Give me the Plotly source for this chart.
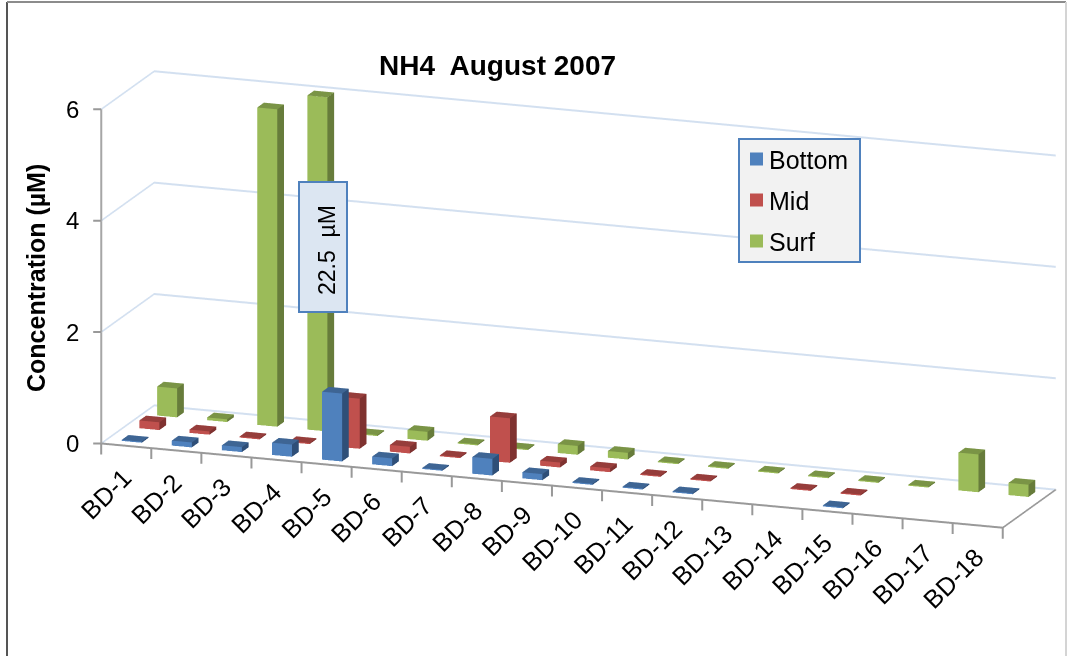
import plotly.graph_objects as go

stations = [f"BD-{i}" for i in range(1, 19)]
bottom = [0.02, 0.09, 0.09, 0.22, 1.22, 0.14, 0.02, 0.3, 0.11, 0.02, 0.02, 0.02, None, None, 0.02, None, None, None]
mid = [0.14, 0.06, 0.02, 0.02, 0.9, 0.12, 0.02, 0.8, 0.09, 0.07, 0.02, 0.02, None, 0.02, 0.02, None, None, None]
surf = [0.52, 0.05, 5.7, 22.5, 0.02, 0.16, 0.02, 0.02, 0.16, 0.12, 0.02, 0.02, 0.02, 0.02, 0.02, 0.02, 0.68, 0.22]
z_ticks = [0, 2, 4, 6]
z_max = 6

FONT = "Liberation Sans"
AXIS_GRAY = "#999999"
BAR_W = 0.4
BAR_D = 0.38
EYE = 3
ZOOM = 3.2
W, H = 1068, 656

series = [
    ("Bottom", bottom, ("#4f81bd", "#3e6594", "#2f4f78")),
    ("Mid", mid, ("#c0504d", "#963d3b", "#7f3230")),
    ("Surf", surf, ("#9bbb59", "#7a9446", "#677c3b")),
]


def box_mesh(name, values, row, colors):
    """one Mesh3d holding a box per station, clipped at the axis max"""
    front, top, side = colors
    xs, ys, zs, ii, jj, kk, fc = [], [], [], [], [], [], []
    for idx, val in enumerate(values):
        if val is None:
            continue
        h = min(val, z_max)
        x0, x1 = idx + 0.5 - BAR_W / 2, idx + 0.5 + BAR_W / 2
        y0, y1 = row + 0.5 - BAR_D / 2, row + 0.5 + BAR_D / 2
        n = len(xs)
        xs += [x0, x1, x1, x0, x0, x1, x1, x0]
        ys += [y0, y0, y1, y1, y0, y0, y1, y1]
        zs += [0, 0, 0, 0, h, h, h, h]
        quads = [
            ((0, 1, 5, 4), front),
            ((1, 2, 6, 5), side),
            ((4, 5, 6, 7), top),
        ]
        for (a, b, c, d), col in quads:
            ii += [n + a, n + a]
            jj += [n + b, n + c]
            kk += [n + c, n + d]
            fc += [col, col]
    return go.Mesh3d(
        x=xs, y=ys, z=zs, i=ii, j=jj, k=kk,
        facecolor=fc,
        flatshading=True,
        lighting=dict(ambient=1, diffuse=0, specular=0, roughness=1, fresnel=0),
        hoverinfo="skip",
        showlegend=False,
        name=name,
    )


def paper_x(px):
    return px / W


def paper_y(px):
    return 1 - px / H


def page_text(x, y, text, size, **kw):
    return dict(x=paper_x(x), y=paper_y(y), xref="paper", yref="paper", showarrow=False,
                xanchor=kw.pop("xanchor", "center"), yanchor="middle", text=text,
                font=dict(family=FONT, size=size, color="#000000"), **kw)


def page_line(x0, y0, x1, y1, color, width=2):
    return dict(type="line", xref="paper", yref="paper",
                x0=paper_x(x0), y0=paper_y(y0), x1=paper_x(x1), y1=paper_y(y1),
                line=dict(color=color, width=width))


def page_rect(x0, y0, x1, y1, fill, line):
    return dict(type="rect", xref="paper", yref="paper",
                x0=paper_x(x0), y0=paper_y(y0), x1=paper_x(x1), y1=paper_y(y1),
                fillcolor=fill, line=line)


def tick_mark(x, z, ax, ay):
    # gl3d ticks point along the wrong axis here, so use short arrowless annotations
    return dict(x=x, y=0, z=z, text=" ", width=1, height=1, showarrow=True, arrowhead=0,
                arrowwidth=2, arrowcolor=AXIS_GRAY, ax=ax, ay=ay, borderpad=0)


fig = go.Figure()
for row, (name, values, colors) in enumerate(series):
    fig.add_trace(box_mesh(name, values, row, colors))

# category labels and z labels, placed in data space
labels = []
for i in range(len(stations) + 1):
    labels.append(tick_mark(i, 0, 0, 12))
for i, st in enumerate(stations):
    labels.append(dict(
        x=i + 0.5, y=0, z=0, text=st, showarrow=False, textangle=-45,
        xanchor="right", yanchor="top", xshift=13, yshift=-15,
        font=dict(family=FONT, size=25.5, color="#000000"),
    ))
for t in z_ticks:
    labels.append(tick_mark(0, t, -9, 0))
    labels.append(dict(
        x=0, y=0, z=t, text=str(t), showarrow=False,
        xanchor="right", yanchor="middle", xshift=-20,
        font=dict(family=FONT, size=24, color="#000000"),
    ))

grid = dict(showbackground=False, showspikes=False, zeroline=False, title="", showticklabels=False)

# legend box drawn by hand, plotly's own key can't get this tight
legend_shapes = [page_rect(739, 139, 860, 262, "#f2f2f2", dict(color="#4f81bd", width=2))]
legend_text = []
for n, (name, _, colors) in enumerate(series):
    cy = 159 + n * 41
    legend_shapes.append(page_rect(750, cy - 6.5, 763, cy + 6.5, colors[0], dict(width=0)))
    legend_text.append(page_text(767, cy + 1, name, 25, xanchor="left"))

fig.update_layout(
    width=W, height=H,
    margin=dict(l=0, r=0, t=0, b=0),
    paper_bgcolor="white",
    font=dict(family=FONT, color="#000000"),
    showlegend=False,
    scene=dict(
        domain=dict(x=[0.0833, 1], y=[0.087, 1]),
        aspectmode="manual",
        aspectratio=dict(x=1 * ZOOM, y=0.163 * ZOOM, z=0.361 * ZOOM),
        camera=dict(
            projection=dict(type="orthographic"),
            up=dict(x=0, y=0, z=1),
            center=dict(x=0, y=0, z=0),
            eye=dict(x=0.3277 * EYE, y=-0.9083 * EYE, z=0.259 * EYE),
        ),
        xaxis=dict(grid, range=[0, 18], showgrid=False, showline=True, linecolor=AXIS_GRAY, linewidth=4,
                   ticks="", tickvals=[]),
        yaxis=dict(grid, range=[0, 3], showgrid=False, showline=True, linecolor=AXIS_GRAY, linewidth=4,
                   ticks="", tickvals=[]),
        zaxis=dict(grid, range=[0, z_max], showgrid=True, gridcolor="#d3e0f0", gridwidth=4,
                   showline=True, linecolor="#a6a6a6", linewidth=4,
                   ticks="", tickvals=z_ticks),
        annotations=labels,
    ),
    annotations=[
        page_text(497, 66, "<b>NH4  August 2007</b>", 28),
        page_text(36, 278, "<b>Concentration (µM)</b>", 25, textangle=-90),
        page_text(327, 250, "22.5  µM", 23, textangle=-90),
    ] + legend_text,
    shapes=[
        page_line(7, H, 7, 2, "#555555"),
        page_line(7, 2, 1066, 2, "#8c8c8c"),
        page_line(1066, H, 1066, 2, "#d4d4d4"),
        page_rect(299, 182, 347, 312, "#dce6f2", dict(color="#4f81bd", width=2)),
    ] + legend_shapes,
)

# the page's default body margin would push the chart 8px off
fig.write_html(
    "out.html",
    config=dict(displayModeBar=False),
    post_script="document.body.style.margin='0';document.body.style.overflow='hidden';",
)
